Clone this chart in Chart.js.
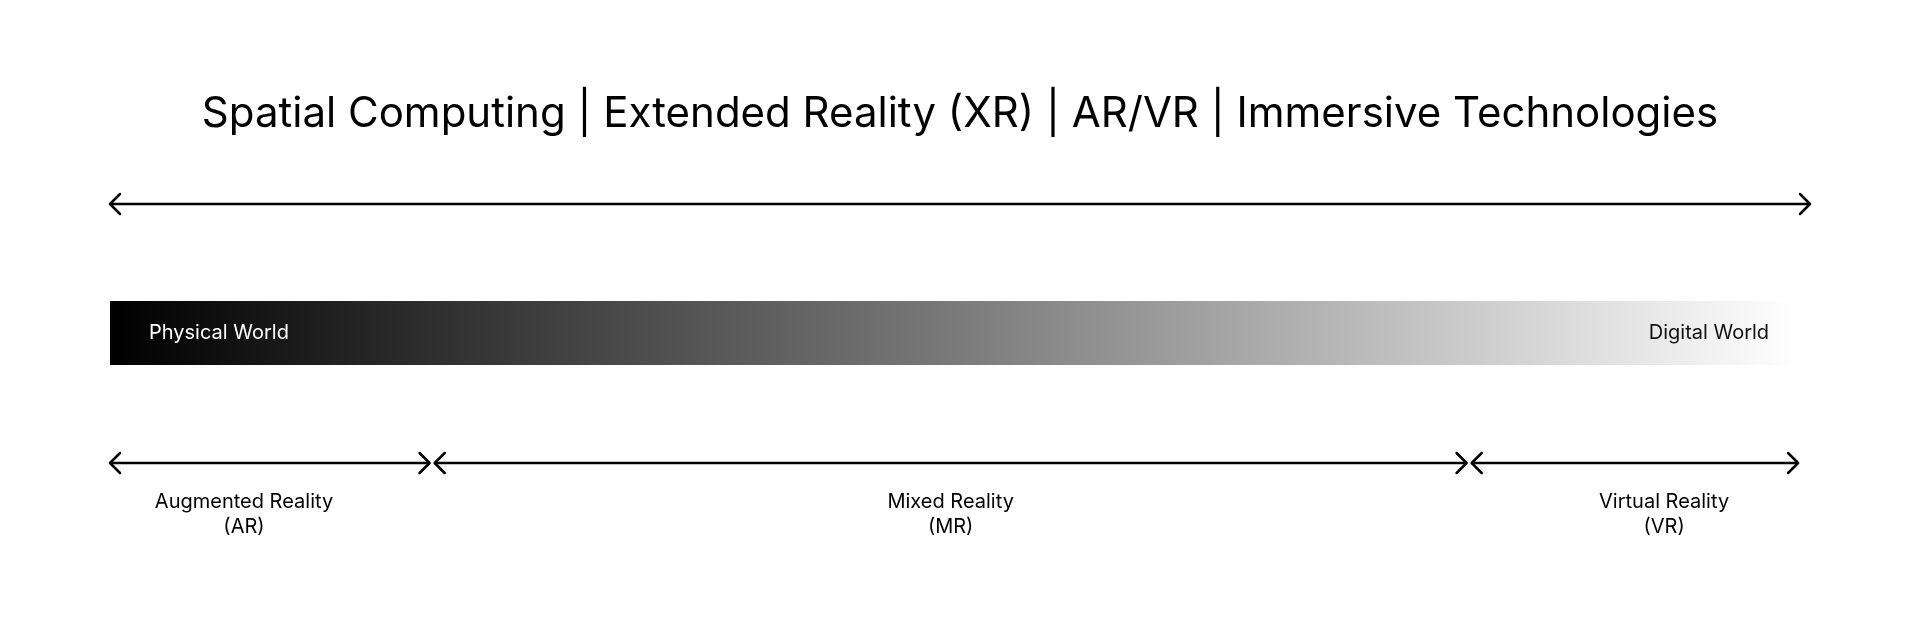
<!DOCTYPE html>
<html><head><meta charset="utf-8">
<script src="https://cdn.jsdelivr.net/npm/chart.js@4/dist/chart.umd.min.js"></script>
<style>html,body{margin:0;padding:0;background:#fff}#c{display:block}</style>
</head><body>
<div style="width:1920px;height:635px"><canvas id="c"></canvas></div>
<script>
const title = "Spatial Computing | Extended Reality (XR) | AR/VR | Immersive Technologies";
const spectrumRange = [0, 100];
const bandRange = [0, 99.3];
const bandLabels = ["Physical World", "Digital World"];
const segmentNames = [["Augmented Reality", "(AR)"], ["Mixed Reality", "(MR)"], ["Virtual Reality", "(VR)"]];
const segmentStarts = [0, 19.1, 80.1];
const segmentEnds = [18.8, 79.8, 99.3];
const rowY = {arrow: 204, bandTop: 301, bandBottom: 365, segments: 463, labels1: 502, labels2: 527, title: 114};

const FONT = 'Inter, "Noto Sans", sans-serif';
const datasets = [{data:[{x:spectrumRange[0],y:rowY.arrow},{x:spectrumRange[1],y:rowY.arrow}]}];
segmentStarts.forEach((s,i)=>datasets.push({data:[{x:s,y:rowY.segments},{x:segmentEnds[i],y:rowY.segments}]}));
datasets.forEach(d=>Object.assign(d,{showLine:true,borderColor:'#000',borderWidth:2.5,pointRadius:0,fill:false}));

const diagram = {
  id:'diagram',
  beforeDatasetsDraw(chart){
    const {ctx, scales:{x,y}} = chart;
    const x0=x.getPixelForValue(bandRange[0]), x1=x.getPixelForValue(bandRange[1]);
    const yt=y.getPixelForValue(rowY.bandTop), yb=y.getPixelForValue(rowY.bandBottom);
    const g=ctx.createLinearGradient(x0,0,x1,0);
    g.addColorStop(0,'#000'); g.addColorStop(0.5,'#7a7a7a'); g.addColorStop(1,'#ffffff');
    ctx.save(); ctx.fillStyle=g; ctx.fillRect(x0,yt,x1-x0,yb-yt);
    const ym=(yt+yb)/2;
    ctx.font='20px '+FONT; ctx.textBaseline='middle';
    ctx.fillStyle='#fff'; ctx.textAlign='left'; ctx.fillText(bandLabels[0], x0+39, ym);
    ctx.fillStyle='#111'; ctx.textAlign='right'; ctx.fillText(bandLabels[1], x1-29, ym);
    ctx.restore();
  },
  afterDatasetsDraw(chart){
    const {ctx, scales:{x,y}} = chart;
    ctx.save();
    ctx.strokeStyle='#000'; ctx.lineWidth=2.5; ctx.lineCap='round'; ctx.lineJoin='round';
    const head=(px,py,dir)=>{ctx.beginPath();ctx.moveTo(px-dir*10,py-10);ctx.lineTo(px,py);ctx.lineTo(px-dir*10,py+10);ctx.stroke();};
    chart.data.datasets.forEach(d=>{
      const a=d.data[0], b=d.data[1];
      head(x.getPixelForValue(a.x),y.getPixelForValue(a.y),-1);
      head(x.getPixelForValue(b.x),y.getPixelForValue(b.y),1);
    });
    ctx.fillStyle='#000'; ctx.textAlign='center'; ctx.textBaseline='middle';
    ctx.font='42px '+FONT;
    ctx.fillText(title, 960, y.getPixelForValue(rowY.title));
    ctx.font='20px '+FONT;
    segmentNames.forEach((n,i)=>{
      let cx=(x.getPixelForValue(segmentStarts[i])+x.getPixelForValue(segmentEnds[i]))/2;
      if(i===0) cx=x.getPixelForValue(segmentStarts[i])+134;
      if(i===2) cx=x.getPixelForValue(segmentEnds[i])-134;
      ctx.fillText(n[0], cx, y.getPixelForValue(rowY.labels1));
      ctx.fillText(n[1], cx, y.getPixelForValue(rowY.labels2));
    });
    ctx.restore();
  }
};

new Chart(document.getElementById('c'),{
  type:'scatter',
  data:{datasets},
  options:{
    responsive:true, maintainAspectRatio:false, animation:false,
    layout:{padding:{left:110,right:110,top:0,bottom:0}},
    plugins:{legend:{display:false},tooltip:{enabled:false}},
    scales:{
      x:{type:'linear',min:spectrumRange[0],max:spectrumRange[1],display:false},
      y:{type:'linear',min:0,max:635,reverse:true,display:false}
    }
  },
  plugins:[diagram]
});
</script>
</body></html>
